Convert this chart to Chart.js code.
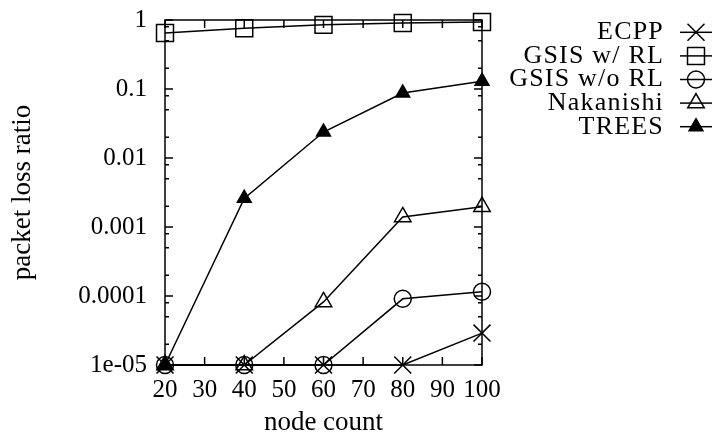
<!DOCTYPE html>
<html>
<head>
<meta charset="utf-8">
<script src="https://cdn.jsdelivr.net/npm/chart.js@4/dist/chart.umd.min.js"></script>
<style>
  html, body { margin: 0; padding: 0; background: #ffffff; }
  #wrap { width: 723px; height: 434px; position: relative; }
</style>
</head>
<body>
<div id="wrap"><canvas id="c" width="723" height="434"></canvas></div>
<script>
// ---- data ----
const nodeCounts = [20, 40, 60, 80, 100];
const seriesNames = ['ECPP', 'GSIS w/ RL', 'GSIS w/o RL', 'Nakanishi', 'TREES'];
const ecpp      = [1e-5, 1e-5, 1e-5, 1e-5, 2.9e-5];
const gsisRL    = [0.65, 0.76, 0.85, 0.905, 0.935];
const gsisNoRL  = [1e-5, 1e-5, 1e-5, 9.1e-5, 1.15e-4];
const nakanishi = [1e-5, 1e-5, 8.2e-5, 1.4e-3, 1.97e-3];
const trees     = [1e-5, 2.6e-3, 0.0238, 0.0875, 0.13];
const xTicks = [20, 30, 40, 50, 60, 70, 80, 90, 100];
const yMajorTicks = [1e-5, 1e-4, 1e-3, 1e-2, 1e-1, 1];
const yTickLabels = ['1e-05', '0.0001', '0.001', '0.01', '0.1', '1'];
const yMinorMultipliers = [2, 5, 8];

// ---- styles ----
const FONT = "'Liberation Serif', 'Times New Roman', serif";
const markerStyles = [
  { pointStyle: 'crossRot', radius: 12, filled: false },
  { pointStyle: 'rect', radius: 12, filled: false },
  { pointStyle: 'circle', radius: 8.5, filled: false },
  { pointStyle: 'triangle', radius: 9.5, filled: false },
  { pointStyle: 'triangle', radius: 8, filled: true }
];
const seriesValues = [ecpp, gsisRL, gsisNoRL, nakanishi, trees];

const datasets = seriesNames.map((name, i) => ({
  label: name,
  data: nodeCounts.map((x, j) => ({ x: x, y: seriesValues[i][j] })),
  borderColor: '#000',
  borderWidth: 1.5,
  backgroundColor: markerStyles[i].filled ? '#000' : 'rgba(0,0,0,0)',
  pointStyle: markerStyles[i].pointStyle,
  pointRadius: markerStyles[i].radius,
  pointBorderWidth: 1.5,
  pointBorderColor: '#000',
  pointBackgroundColor: markerStyles[i].filled ? '#000' : 'rgba(0,0,0,0)',
  tension: 0,
  fill: false,
  clip: false
}));

const framePlugin = {
  id: 'gpFrame',
  beforeDatasetsDraw(chart) {
    const { ctx, chartArea: a, scales } = chart;
    const x = scales.x, y = scales.y;
    ctx.save();
    ctx.strokeStyle = '#000';
    ctx.lineWidth = 1.5;
    ctx.strokeRect(a.left, a.top, a.right - a.left, a.bottom - a.top);
    ctx.beginPath();
    xTicks.forEach(v => {
      const px = x.getPixelForValue(v);
      ctx.moveTo(px, a.bottom); ctx.lineTo(px, a.bottom - 8);
      ctx.moveTo(px, a.top); ctx.lineTo(px, a.top + 8);
    });
    yMajorTicks.forEach(v => {
      const py = y.getPixelForValue(v);
      ctx.moveTo(a.left, py); ctx.lineTo(a.left + 8, py);
      ctx.moveTo(a.right, py); ctx.lineTo(a.right - 8, py);
    });
    for (let k = 0; k < yMajorTicks.length - 1; k++) {
      yMinorMultipliers.forEach(m => {
        const py = y.getPixelForValue(yMajorTicks[k] * m);
        ctx.moveTo(a.left, py); ctx.lineTo(a.left + 4, py);
        ctx.moveTo(a.right, py); ctx.lineTo(a.right - 4, py);
      });
    }
    ctx.stroke();
    ctx.restore();
  }
};

function drawMarker(ctx, st, cx, cy) {
  ctx.save();
  ctx.strokeStyle = '#000';
  ctx.fillStyle = st.filled ? '#000' : 'rgba(0,0,0,0)';
  ctx.lineWidth = 1.5;
  if (Chart.helpers && Chart.helpers.drawPoint) {
    Chart.helpers.drawPoint(ctx, { pointStyle: st.pointStyle, radius: st.radius, borderWidth: 1.5, rotation: 0 }, cx, cy);
  }
  ctx.restore();
}

const legendPlugin = {
  id: 'gpLegend',
  afterDraw(chart) {
    const ctx = chart.ctx;
    ctx.save();
    ctx.font = '26px ' + FONT;
    try { ctx.letterSpacing = '1.2px'; } catch (e) {}
    ctx.textAlign = 'right';
    ctx.textBaseline = 'middle';
    ctx.fillStyle = '#000';
    seriesNames.forEach((name, i) => {
      const yy = 32.3 + i * 23.6;
      ctx.fillText(name, 664, yy);
      ctx.beginPath();
      ctx.moveTo(680, yy); ctx.lineTo(712, yy);
      ctx.lineWidth = 1.5; ctx.strokeStyle = '#000';
      ctx.stroke();
      drawMarker(ctx, markerStyles[i], 696, yy);
    });
    ctx.restore();
  }
};

new Chart(document.getElementById('c'), {
  type: 'line',
  data: { datasets: datasets },
  options: {
    responsive: false,
    animation: false,
    devicePixelRatio: 1,
    layout: { padding: { left: 0, top: 20, right: 241, bottom: 0 } },
    plugins: { legend: { display: false }, tooltip: { enabled: false } },
    scales: {
      x: {
        type: 'linear',
        min: 20, max: 100,
        afterBuildTicks: s => { s.ticks = xTicks.map(v => ({ value: v })); },
        afterFit: s => { s.height = 69; s.paddingLeft = 0; s.paddingRight = 0; },
        grid: { display: false, drawTicks: false },
        border: { display: false },
        ticks: { color: '#000', font: { family: FONT, size: 25 }, padding: 10, maxRotation: 0, autoSkip: false },
        title: { display: true, text: 'node count', color: '#000',
                 font: { family: FONT, size: 27, lineHeight: '22px' }, padding: { top: 0, bottom: 0 } }
      },
      y: {
        type: 'logarithmic',
        min: 1e-5, max: 1,
        afterBuildTicks: s => { s.ticks = yMajorTicks.map(v => ({ value: v })); },
        afterFit: s => { s.width = 165; s.paddingTop = 0; s.paddingBottom = 0; },
        grid: { display: false, drawTicks: false },
        border: { display: false },
        ticks: {
          color: '#000', font: { family: FONT, size: 25 }, padding: 18, autoSkip: false,
          callback: (v) => { const i = yMajorTicks.indexOf(v); return i >= 0 ? yTickLabels[i] : ''; }
        },
        title: { display: true, text: 'packet loss ratio', color: '#000',
                 font: { family: FONT, size: 27, lineHeight: '22px' }, padding: { top: 11.5, bottom: 0 } }
      }
    }
  },
  plugins: [framePlugin, legendPlugin]
});
</script>
</body>
</html>
